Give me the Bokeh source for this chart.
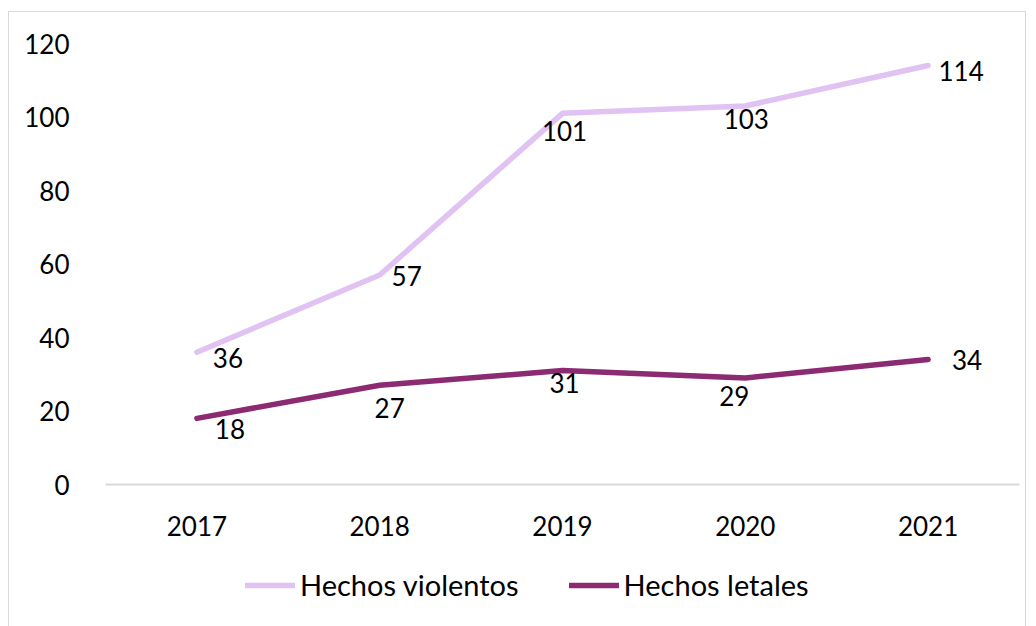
from bokeh.plotting import figure
from bokeh.layouts import column
from bokeh.models import ColumnDataSource, Legend, LegendItem, Range1d, FactorRange, FixedTicker
from bokeh.embed import file_html
from bokeh.resources import INLINE

years = ["2017", "2018", "2019", "2020", "2021"]
violentos = [36, 57, 101, 103, 114]
letales = [18, 27, 31, 29, 34]
series_names = ["Hechos violentos", "Hechos letales"]
y_ticks = [0, 20, 40, 60, 80, 100, 120]

# label offsets (style, px; positive dy = down)
v_dx = [31, 27, 2, 1, 33]
v_dy = [6, 1, 18, 13, 5]
l_dx = [33, 10, 2, -11, 39]
l_dy = [11, 23, 12, 18, 0]

FONT = "Lato"
FS = "26px"
LIGHT = "#E0C2F3"
DARK = "#8C2B72"
LW = 5.5

p = figure(x_range=FactorRange(*years, range_padding=0), y_range=Range1d(0, 120),
           frame_width=914, frame_height=441, output_backend="svg", toolbar_location=None,
           min_border_left=96, min_border_right=6, min_border_top=31, min_border_bottom=70)
p.outline_line_color = None
p.xgrid.visible = False
p.ygrid.visible = False

src_v = ColumnDataSource(dict(x=years, y=violentos, t=[str(v) for v in violentos], dx=v_dx, dy=v_dy))
src_l = ColumnDataSource(dict(x=years, y=letales, t=[str(v) for v in letales], dx=l_dx, dy=l_dy))

p.line("x", "y", source=src_v, line_color=LIGHT, line_width=LW, line_cap="round", line_join="round")
p.line("x", "y", source=src_l, line_color=DARK, line_width=LW, line_cap="round", line_join="round")

for s in (src_v, src_l):
    p.text("x", "y", text="t", source=s, x_offset="dx", y_offset="dy",
           text_align="center", text_baseline="middle", text_font_size=FS,
           text_font={"value": FONT}, text_color="#000000")

xa = p.xaxis[0]
xa.axis_line_color = "#D9D9D9"
xa.axis_line_width = 2
xa.major_tick_line_color = None
xa.minor_tick_line_color = None
xa.major_label_text_font = FONT
xa.major_label_text_font_size = FS
xa.major_label_text_color = "#000000"
xa.major_label_standoff = 25

ya = p.yaxis[0]
ya.ticker = FixedTicker(ticks=y_ticks)
ya.axis_line_color = None
ya.major_tick_line_color = None
ya.minor_tick_line_color = None
ya.major_label_text_font = FONT
ya.major_label_text_font_size = FS
ya.major_label_text_color = "#000000"
ya.major_label_standoff = 30

# legend strip (its lines hold a single off-range point: only their legend glyphs show)
p2 = figure(width=1016, height=80, x_range=Range1d(0, 1), y_range=Range1d(0, 1),
            x_axis_type=None, y_axis_type=None, output_backend="svg", toolbar_location=None,
            min_border=0)
p2.outline_line_color = None
p2.xgrid.visible = False
p2.ygrid.visible = False
g1 = p2.line(x=[-1], y=[-1], line_color=LIGHT, line_width=LW, line_cap="round")
g2 = p2.line(x=[-1], y=[-1], line_color=DARK, line_width=LW, line_cap="round")

legend = Legend(items=[LegendItem(label=series_names[0], renderers=[g1]),
                       LegendItem(label=series_names[1], renderers=[g2])],
                orientation="horizontal", location=(140, 32),
                label_text_font=FONT, label_text_font_size="29px", label_text_color="#000000",
                glyph_width=50, glyph_height=30, label_standoff=5, spacing=50,
                border_line_color=None, background_fill_alpha=0, padding=0, margin=0)
p2.add_layout(legend)

layout = column(p, p2, spacing=0,
                styles={"border": "1px solid #D9D9D9", "margin-left": "8px", "margin-top": "11px"})

open("out.html", "w").write(file_html(layout, INLINE))
